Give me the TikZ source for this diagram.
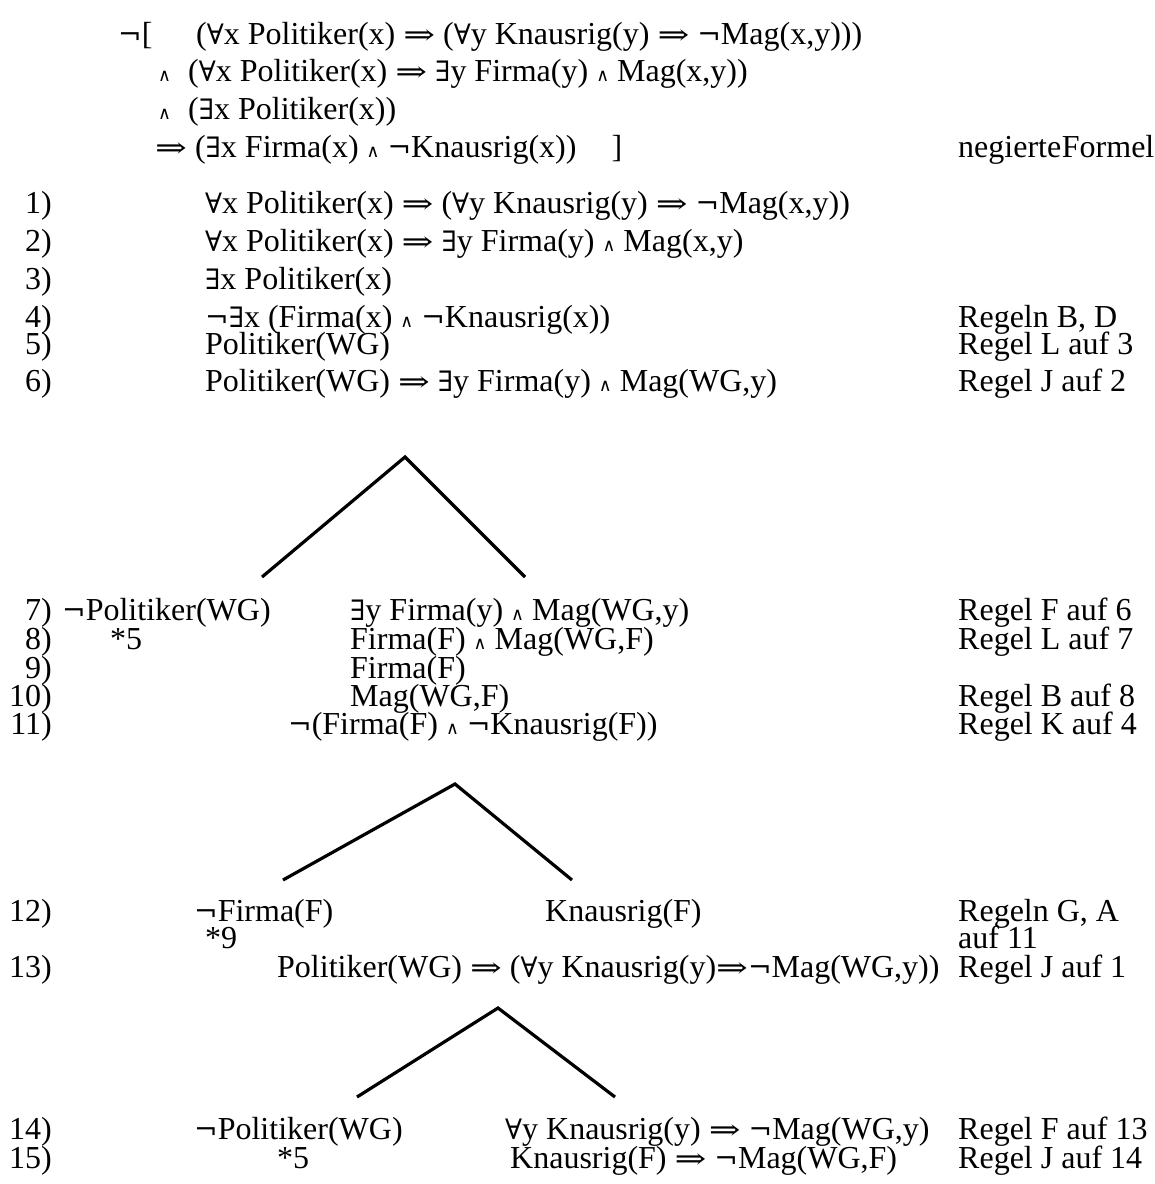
\documentclass[tikz,border=0pt]{standalone}
\usepackage{graphicx}
\usepackage{fontspec}
\setmainfont{Liberation Serif}
\newfontfamily\symfont[Scale=0.88]{DejaVu Serif}
% logical symbols
\newcommand{\lAll}{{\symfont ∀}}
\newcommand{\lEx}{{\symfont ∃}}
\newcommand{\lAnd}{{\symfont\fontsize{20}{20}\selectfont ∧}}
\newcommand{\lImp}{\scalebox{1.35}[1]{\symfont ⇒}}
\newcommand{\lNot}{{\symfont ¬}}
\begin{document}
\begin{tikzpicture}[x=1pt,y=-1pt,
  txt/.style={anchor=base west,inner sep=0pt,font=\fontsize{32}{38}\selectfont},
  num/.style={anchor=base east,inner sep=0pt,font=\fontsize{32}{38}\selectfont},
  branch/.style={line width=3.2pt}]
\useasboundingbox (0,0) rectangle (1155,1184);

% negated formula
\node[txt] (n0a) at (118,44) {\lNot[};
\node[txt] (f0a) at (196,44) {(\lAll x Politiker(x) \lImp{} (\lAll y Knausrig(y) \lImp{} \lNot Mag(x,y)))};
\node[txt] (n0b) at (158,81) {\lAnd};
\node[txt] (f0b) at (188,81) {(\lAll x Politiker(x) \lImp{} \lEx y Firma(y) \lAnd{} Mag(x,y))};
\node[txt] (n0c) at (158,119) {\lAnd};
\node[txt] (f0c) at (188,119) {(\lEx x Politiker(x))};
\node[txt] (f0d) at (155,157) {\lImp{} (\lEx x Firma(x) \lAnd{} \lNot Knausrig(x))\hspace{1.1em}]};
\node[txt] (r0) at (958,157) {negierte\hspace{0.02em}Formel};

% rows 1--6
\node[num] (l1) at (52,213) {1)};
\node[txt] (f1) at (205,213) {\lAll x Politiker(x) \lImp{} (\lAll y Knausrig(y) \lImp{} \lNot Mag(x,y))};
\node[num] (l2) at (52,251) {2)};
\node[txt] (f2) at (205,251) {\lAll x Politiker(x) \lImp{} \lEx y Firma(y) \lAnd{} Mag(x,y)};
\node[num] (l3) at (52,289) {3)};
\node[txt] (f3) at (205,289) {\lEx x Politiker(x)};
\node[num] (l4) at (52,327) {4)};
\node[txt] (f4) at (205,327) {\lNot\lEx x (Firma(x) \lAnd{} \lNot Knausrig(x))};
\node[txt] (r4) at (958,327) {Regeln B, D};
\node[num] (l5) at (52,354) {5)};
\node[txt] (f5) at (205,354) {Politiker(WG)};
\node[txt] (r5) at (958,354) {Regel L auf 3};
\node[num] (l6) at (52,391) {6)};
\node[txt] (f6) at (205,391) {Politiker(WG) \lImp{} \lEx y Firma(y) \lAnd{} Mag(WG,y)};
\node[txt] (r6) at (958,391) {Regel J auf 2};

% first branching
\coordinate (t6) at (405,457);
\coordinate (t6l) at (262,577);
\coordinate (t6r) at (525,577);
\draw[branch] (t6l) -- (t6) -- (t6r);

\node[num] (l7) at (52,620) {7)};
\node[txt] (f7a) at (62,620) {\lNot Politiker(WG)};
\node[txt] (f7b) at (350,620) {\lEx y Firma(y) \lAnd{} Mag(WG,y)};
\node[txt] (r7) at (958,620) {Regel F auf 6};
\node[num] (l8) at (52,649) {8)};
\node[txt] (c8) at (110,649) {*5};
\node[txt] (f8) at (350,649) {Firma(F) \lAnd{} Mag(WG,F)};
\node[txt] (r8) at (958,649) {Regel L auf 7};
\node[num] (l9) at (52,678) {9)};
\node[txt] (f9) at (350,678) {Firma(F)};
\node[num] (l10) at (52,706) {10)};
\node[txt] (f10) at (350,706) {Mag(WG,F)};
\node[txt] (r10) at (958,706) {Regel B auf 8};
\node[num] (l11) at (52,734) {11)};
\node[txt] (f11) at (288,734) {\lNot(Firma(F) \lAnd{} \lNot Knausrig(F))};
\node[txt] (r11) at (958,734) {Regel K auf 4};

% second branching
\coordinate (t11) at (455,784);
\coordinate (t11l) at (283,880);
\coordinate (t11r) at (572,880);
\draw[branch] (t11l) -- (t11) -- (t11r);

\node[num] (l12) at (52,921) {12)};
\node[txt] (f12a) at (194,921) {\lNot Firma(F)};
\node[txt] (f12b) at (545,921) {Knausrig(F)};
\node[txt] (r12) at (958,921) {Regeln G, A};
\node[txt] (c12) at (205,948) {*9};
\node[txt] (r12b) at (958,948) {auf 11};
\node[num] (l13) at (52,977) {13)};
\node[txt] (f13) at (277,977) {Politiker(WG) \lImp{} (\lAll y Knausrig(y)\lImp\lNot Mag(WG,y))};
\node[txt] (r13) at (958,977) {Regel J auf 1};

% third branching
\coordinate (t13) at (498,1008);
\coordinate (t13l) at (357,1097);
\coordinate (t13r) at (615,1097);
\draw[branch] (t13l) -- (t13) -- (t13r);

\node[num] (l14) at (52,1139) {14)};
\node[txt] (f14a) at (194,1139) {\lNot Politiker(WG)};
\node[txt] (f14b) at (505,1139) {\lAll y Knausrig(y) \lImp{} \lNot Mag(WG,y)};
\node[txt] (r14) at (958,1139) {Regel F auf 13};
\node[num] (l15) at (52,1168) {15)};
\node[txt] (c15) at (277,1168) {*5};
\node[txt] (f15) at (510,1168) {Knausrig(F) \lImp{} \lNot Mag(WG,F)};
\node[txt] (r15) at (958,1168) {Regel J auf 14};
\end{tikzpicture}
\end{document}
